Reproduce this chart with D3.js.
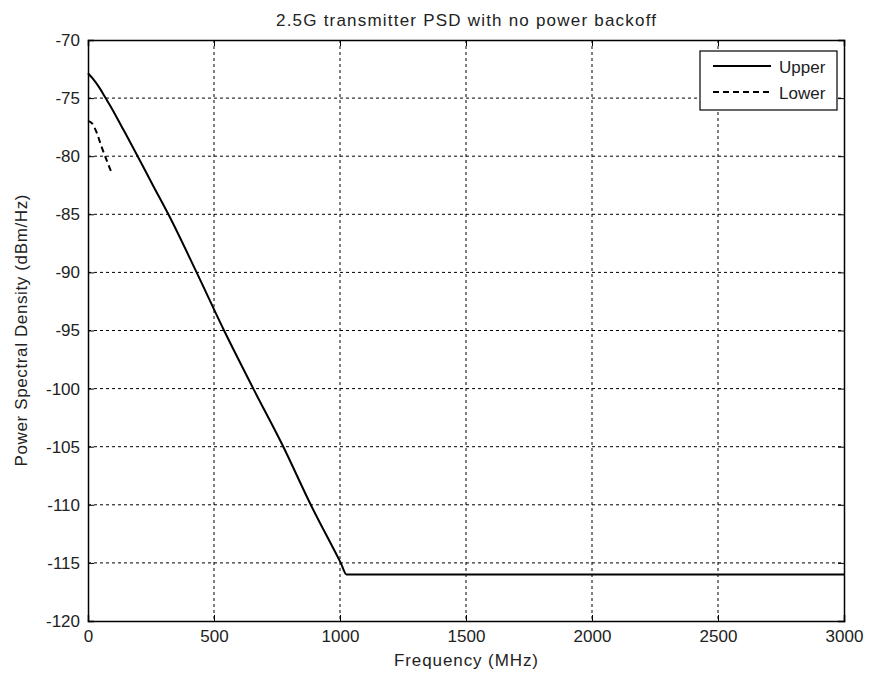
<!DOCTYPE html>
<html>
<head>
<meta charset="utf-8">
<script src="https://cdn.jsdelivr.net/npm/d3@7"></script>
<style>
  body { margin: 0; background: #fff; }
  svg { font-family: "Liberation Sans", Arial, sans-serif; }
</style>
</head>
<body>
<svg width="871" height="677"></svg>
<script>
// Upper PSD mask (MHz, dBm/Hz)
const upperFreq = [0, 20, 45, 70, 100, 135, 170, 197, 260, 319, 431, 540, 656, 775, 884, 1003, 1026, 3000];
const upperPsd  = [-72.86, -73.35, -74.1, -75, -76.1, -77.5, -78.9, -80, -82.6, -85, -90, -95, -100, -105, -110, -115, -116, -116];

// Lower PSD mask
const lowerFreq = [0, 17, 35, 54, 75, 94];
const lowerPsd  = [-76.96, -77.2, -78, -79.2, -80.4, -81.45];

const xTicks = [0, 500, 1000, 1500, 2000, 2500, 3000];
const yTicks = [-120, -115, -110, -105, -100, -95, -90, -85, -80, -75, -70];

const margin = {top: 40, right: 27, bottom: 56, left: 88},
    width = 871 - margin.left - margin.right,
    height = 677 - margin.top - margin.bottom;

const svg = d3.select("svg")
  .append("g")
  .attr("transform", `translate(${margin.left},${margin.top})`);

const x = d3.scaleLinear().domain([0, 3000]).range([0, width]);
const y = d3.scaleLinear().domain([-120, -70]).range([height, 0]);

// grid
svg.append("g")
  .selectAll("line")
  .data(xTicks.slice(1, -1))
  .join("line")
    .attr("x1", d => x(d)).attr("x2", d => x(d))
    .attr("y1", 0).attr("y2", height)
    .attr("stroke", "#000").attr("stroke-width", 1)
    .attr("stroke-dasharray", "3,3");
svg.append("g")
  .selectAll("line")
  .data(yTicks.slice(1, -1))
  .join("line")
    .attr("x1", 0).attr("x2", width)
    .attr("y1", d => y(d)).attr("y2", d => y(d))
    .attr("stroke", "#000").attr("stroke-width", 1)
    .attr("stroke-dasharray", "3,3");

// axes (ticks inside, as MATLAB)
const xAxis = svg.append("g")
  .attr("transform", `translate(0,${height})`)
  .call(d3.axisBottom(x).tickValues(xTicks).tickSize(-6).tickPadding(9).tickFormat(d3.format("d")));
const yAxis = svg.append("g")
  .call(d3.axisLeft(y).tickValues(yTicks).tickSize(-6).tickPadding(8).tickFormat(d => d));
[xAxis, yAxis].forEach(a => {
  a.selectAll("text").attr("font-size", 17).attr("fill", "#222")
    .attr("font-family", "'Liberation Sans', Arial, sans-serif");
  a.select(".domain").attr("stroke-width", 1.5);
});
// top and right ticks
svg.append("g")
  .call(d3.axisTop(x).tickValues(xTicks).tickSize(-6).tickFormat(""))
  .select(".domain").attr("stroke-width", 1.5);
svg.append("g")
  .attr("transform", `translate(${width},0)`)
  .call(d3.axisRight(y).tickValues(yTicks).tickSize(-6).tickFormat(""))
  .select(".domain").attr("stroke-width", 1.5);

// lines
const line = d3.line().x(d => x(d[0])).y(d => y(d[1])).curve(d3.curveMonotoneX);
svg.append("path")
  .datum(d3.zip(upperFreq, upperPsd))
  .attr("fill", "none").attr("stroke", "#000").attr("stroke-width", 2)
  .attr("d", line);
svg.append("path")
  .datum(d3.zip(lowerFreq, lowerPsd))
  .attr("fill", "none").attr("stroke", "#000").attr("stroke-width", 2)
  .attr("stroke-dasharray", "6,4")
  .attr("d", line);

// legend
const legend = svg.append("g").attr("transform", `translate(${700 - margin.left},${51 - margin.top})`);
legend.append("rect")
  .attr("width", 137).attr("height", 59)
  .attr("fill", "#fff").attr("stroke", "#000").attr("stroke-width", 1.2);
const items = [["Upper", null], ["Lower", "6,4"]];
items.forEach((it, i) => {
  const ly = 15 + i * 26;
  legend.append("line")
    .attr("x1", 13).attr("x2", 71).attr("y1", ly).attr("y2", ly)
    .attr("stroke", "#000").attr("stroke-width", 2)
    .attr("stroke-dasharray", it[1]);
  legend.append("text")
    .attr("x", 79).attr("y", ly + 7)
    .attr("font-size", 17).attr("fill", "#222")
    .text(it[0]);
});

// title and labels
svg.append("text")
  .attr("x", width / 2).attr("y", -14)
  .attr("text-anchor", "middle").attr("font-size", 17).attr("fill", "#222")
  .attr("textLength", 380).attr("lengthAdjust", "spacing")
  .text("2.5G transmitter PSD with no power backoff");
svg.append("text")
  .attr("x", width / 2).attr("y", height + 45)
  .attr("text-anchor", "middle").attr("font-size", 17).attr("fill", "#222")
  .attr("textLength", 144).attr("lengthAdjust", "spacing")
  .text("Frequency (MHz)");
svg.append("text")
  .attr("transform", `translate(${-61},${height / 2}) rotate(-90)`)
  .attr("text-anchor", "middle").attr("font-size", 17).attr("fill", "#222")
  .attr("textLength", 272).attr("lengthAdjust", "spacing")
  .text("Power Spectral Density (dBm/Hz)");
</script>
</body>
</html>
